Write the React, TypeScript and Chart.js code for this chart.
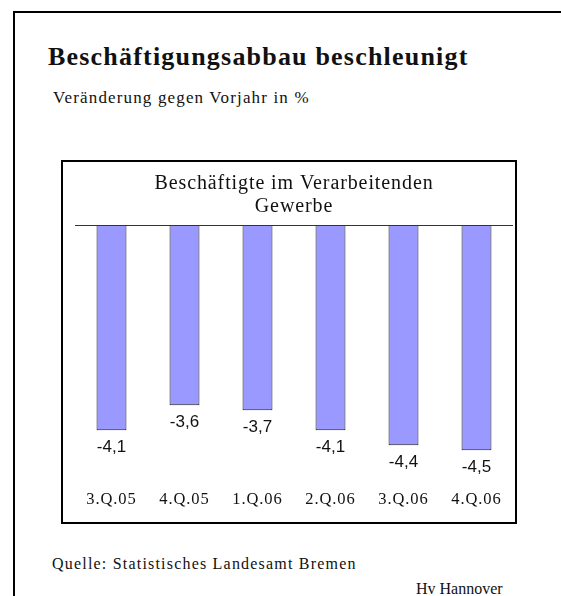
import React, { useEffect, useRef } from 'react';
import { Chart, registerables } from 'chart.js';

Chart.register(...registerables);

const categories = ['3.Q.05', '4.Q.05', '1.Q.06', '2.Q.06', '3.Q.06', '4.Q.06'];
const values = [-4.1, -3.6, -3.7, -4.1, -4.4, -4.5];
const chartTitle = ['Beschäftigte im Verarbeitenden', 'Gewerbe'];
const mainTitle = 'Beschäftigungsabbau beschleunigt';
const subTitle = 'Veränderung gegen Vorjahr in %';
const sourceText = 'Quelle: Statistisches Landesamt Bremen';
const authorText = 'Hv Hannover';
const yMin = -5.2;
const yMax = 0;

const fmt = (v: number) => v.toFixed(1).replace('.', ',');

const SERIF = '"Liberation Serif", "Times New Roman", serif';
const SANS = '"Liberation Sans", Arial, sans-serif';

const spacingPlugin = {
  id: 'spacing',
  beforeDraw(chart: any) {
    chart.ctx.letterSpacing = '0.9px';
  },
};

const zeroLinePlugin = {
  id: 'zeroLine',
  afterDatasetsDraw(chart: any) {
    const { ctx, chartArea, scales } = chart;
    const y = Math.round(scales.y.getPixelForValue(0)) + 0.5;
    ctx.save();
    ctx.strokeStyle = '#333';
    ctx.lineWidth = 1;
    ctx.beginPath();
    ctx.moveTo(chartArea.left, y);
    ctx.lineTo(chartArea.right, y);
    ctx.stroke();
    ctx.restore();
  },
};

const valueLabelPlugin = {
  id: 'valueLabels',
  afterDatasetsDraw(chart: any) {
    const ctx = chart.ctx;
    const meta = chart.getDatasetMeta(0);
    ctx.save();
    ctx.letterSpacing = '0px';
    ctx.font = `17px ${SANS}`;
    ctx.fillStyle = '#111';
    ctx.textAlign = 'center';
    ctx.textBaseline = 'middle';
    meta.data.forEach((bar: any, i: number) => {
      ctx.fillText(fmt(values[i]), bar.x, bar.y + 17.5);
    });
    ctx.restore();
  },
};

export default function App() {
  const ref = useRef<HTMLCanvasElement | null>(null);

  useEffect(() => {
    if (!ref.current) return;
    const chart = new Chart(ref.current, {
      type: 'bar',
      data: {
        labels: categories,
        datasets: [
          {
            data: values,
            backgroundColor: '#9999FF',
            borderColor: '#1a1a1a',
            borderWidth: 1,
            barPercentage: 0.41,
            categoryPercentage: 1,
          },
        ],
      },
      options: {
        responsive: false,
        animation: false,
        layout: { padding: { left: 12, right: 2, top: 0, bottom: 8.6 } },
        plugins: {
          legend: { display: false },
          tooltip: { enabled: false },
          title: {
            display: true,
            text: chartTitle,
            color: '#111',
            font: { family: SERIF, size: 20, weight: 'normal', lineHeight: 1.15 },
            padding: { top: 10, bottom: 7 },
          },
        },
        scales: {
          x: {
            grid: { display: false, drawTicks: false },
            border: { display: false },
            ticks: {
              color: '#111',
              padding: 4.2,
              maxRotation: 0,
              autoSkip: false,
              font: { family: SERIF, size: 16.5, lineHeight: 1.2 },
            },
          },
          y: { display: false, min: yMin, max: yMax },
        },
      },
      plugins: [spacingPlugin, zeroLinePlugin, valueLabelPlugin],
    } as any);
    return () => chart.destroy();
  }, []);

  const text = (extra: React.CSSProperties): React.CSSProperties => ({
    position: 'absolute',
    whiteSpace: 'nowrap',
    color: '#111',
    fontFamily: SERIF,
    ...extra,
  });

  return (
    <div style={{ position: 'absolute', left: 0, top: 0, width: 561, height: 596, background: '#fff', overflow: 'hidden' }}>
      <div style={{ position: 'absolute', left: 13, top: 11, width: 600, height: 600, borderLeft: '2px solid #000', borderTop: '2px solid #000' }} />
      <div style={text({ left: 48, top: 44, fontSize: 26, fontWeight: 'bold', lineHeight: '26px', letterSpacing: '1.2px' })}>{mainTitle}</div>
      <div style={text({ left: 53, top: 89, fontSize: 17, lineHeight: '17px', letterSpacing: '1.15px' })}>{subTitle}</div>
      <div style={{ position: 'absolute', left: 61, top: 160, width: 452, height: 360, border: '2px solid #000' }}>
        <canvas ref={ref} width={452} height={360} style={{ display: 'block', width: 452, height: 360 }} />
      </div>
      <div style={text({ left: 52, top: 556, fontSize: 16, lineHeight: '16px', letterSpacing: '1.2px' })}>{sourceText}</div>
      <div style={text({ left: 416, top: 581, fontSize: 16, lineHeight: '16px', letterSpacing: '0px' })}>{authorText}</div>
    </div>
  );
}
